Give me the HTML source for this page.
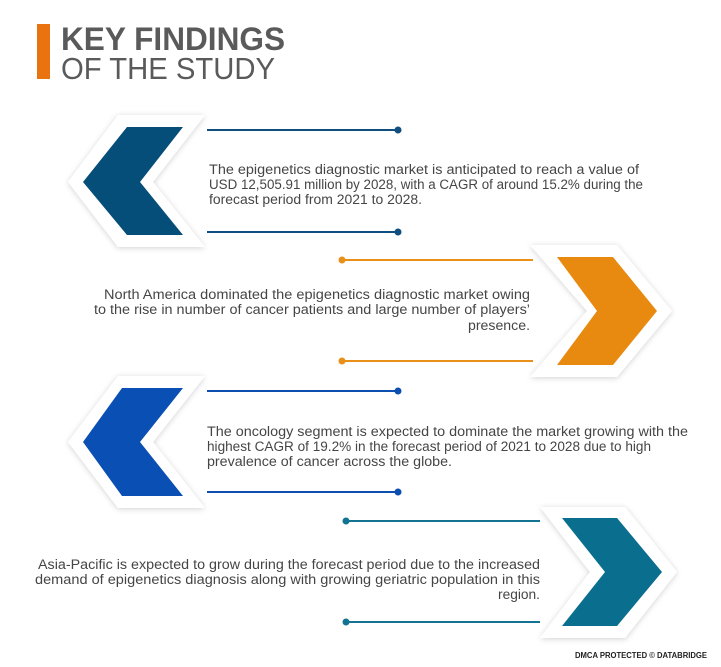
<!DOCTYPE html>
<html><head><meta charset="utf-8"><style>
html,body{margin:0;padding:0;background:#fff;}
svg{display:block;}
text{font-family:"Liberation Sans",sans-serif;}
.t{font-size:13.5px;fill:#454545;}
</style></head><body>
<svg width="721" height="667" viewBox="0 0 721 667" xmlns="http://www.w3.org/2000/svg">
<defs>
<filter id="sh" x="-20%" y="-20%" width="140%" height="140%">
<feDropShadow dx="0" dy="1" stdDeviation="3" flood-color="#000" flood-opacity="0.18"/>
</filter>
</defs>
<rect x="37" y="24" width="13" height="55" fill="#e8730f"/>
<text x="61" y="50" font-size="32" font-weight="bold" fill="#5a5a5a" textLength="224" lengthAdjust="spacingAndGlyphs">KEY FINDINGS</text>
<text x="61" y="79" font-size="31" fill="#5a5a5a" textLength="214" lengthAdjust="spacingAndGlyphs">OF THE STUDY</text>

<!-- Block 1 -->
<polygon points="118,115 205,115 153,182 205,247 118,247 68,182" fill="#fff" filter="url(#sh)"/>
<polygon points="127,127 183,127 140,182 183,235 127,235 83,182" fill="#054e7a"/>
<line x1="207" y1="130" x2="398" y2="130" stroke="#0f4f7f" stroke-width="2"/>
<circle cx="398" cy="130" r="3.5" fill="#0f4f7f"/>
<line x1="207" y1="232" x2="398" y2="232" stroke="#0f4f7f" stroke-width="2"/>
<circle cx="398" cy="232" r="3.5" fill="#0f4f7f"/>
<text class="t" x="209" y="174" textLength="430" lengthAdjust="spacingAndGlyphs">The epigenetics diagnostic market is anticipated to reach a value of</text>
<text class="t" x="209" y="189" textLength="434" lengthAdjust="spacingAndGlyphs">USD 12,505.91 million by 2028, with a CAGR of around 15.2% during the</text>
<text class="t" x="209" y="204" textLength="213" lengthAdjust="spacingAndGlyphs">forecast period from 2021 to 2028.</text>

<!-- Block 2 -->
<polygon points="530,245 617,245 672,311 617,377 530,377 587,311" fill="#fff" filter="url(#sh)"/>
<polygon points="557,257 613,257 657,311 613,365 557,365 597,311" fill="#e88a10"/>
<line x1="342" y1="260" x2="533" y2="260" stroke="#e8901a" stroke-width="2"/>
<circle cx="342" cy="260" r="3.5" fill="#e8901a"/>
<line x1="342" y1="361" x2="533" y2="361" stroke="#e8901a" stroke-width="2"/>
<circle cx="342" cy="361" r="3.5" fill="#e8901a"/>
<text class="t" x="104" y="299" textLength="426" lengthAdjust="spacingAndGlyphs">North America dominated the epigenetics diagnostic market owing</text>
<text class="t" x="94" y="314" textLength="436" lengthAdjust="spacingAndGlyphs">to the rise in number of cancer patients and large number of players’</text>
<text class="t" x="468" y="330" textLength="62" lengthAdjust="spacingAndGlyphs">presence.</text>

<!-- Block 3 -->
<polygon points="118,376 205,376 153,442 205,508 118,508 68,442" fill="#fff" filter="url(#sh)"/>
<polygon points="122,388 183,388 140,442 183,496 122,496 83,442" fill="#0a4fb3"/>
<line x1="207" y1="391" x2="398" y2="391" stroke="#0d4fb0" stroke-width="2"/>
<circle cx="398" cy="391" r="3.5" fill="#0d4fb0"/>
<line x1="207" y1="492" x2="398" y2="492" stroke="#0d4fb0" stroke-width="2"/>
<circle cx="398" cy="492" r="3.5" fill="#0d4fb0"/>
<text class="t" x="207" y="436" textLength="481" lengthAdjust="spacingAndGlyphs">The oncology segment is expected to dominate the market growing with the</text>
<text class="t" x="207" y="451" textLength="444" lengthAdjust="spacingAndGlyphs">highest CAGR of 19.2% in the forecast period of 2021 to 2028 due to high</text>
<text class="t" x="207" y="466" textLength="245" lengthAdjust="spacingAndGlyphs">prevalence of cancer across the globe.</text>

<!-- Block 4 -->
<polygon points="540,507 625,507 677,572 625,638 540,638 590,572" fill="#fff" filter="url(#sh)"/>
<polygon points="562,518 617,518 662,572 617,626 562,626 605,572" fill="#0a6e8e"/>
<line x1="346" y1="521" x2="540" y2="521" stroke="#137393" stroke-width="2"/>
<circle cx="346" cy="521" r="3.5" fill="#137393"/>
<line x1="346" y1="622" x2="540" y2="622" stroke="#137393" stroke-width="2"/>
<circle cx="346" cy="622" r="3.5" fill="#137393"/>
<text class="t" x="38" y="569" textLength="502" lengthAdjust="spacingAndGlyphs">Asia-Pacific is expected to grow during the forecast period due to the increased</text>
<text class="t" x="35" y="584" textLength="505" lengthAdjust="spacingAndGlyphs">demand of epigenetics diagnosis along with growing geriatric population in this</text>
<text class="t" x="498" y="599" textLength="42" lengthAdjust="spacingAndGlyphs">region.</text>

<text x="575" y="658" font-size="8" font-weight="bold" fill="#222" textLength="132" lengthAdjust="spacingAndGlyphs">DMCA PROTECTED © DATABRIDGE</text>
</svg>
</body></html>
